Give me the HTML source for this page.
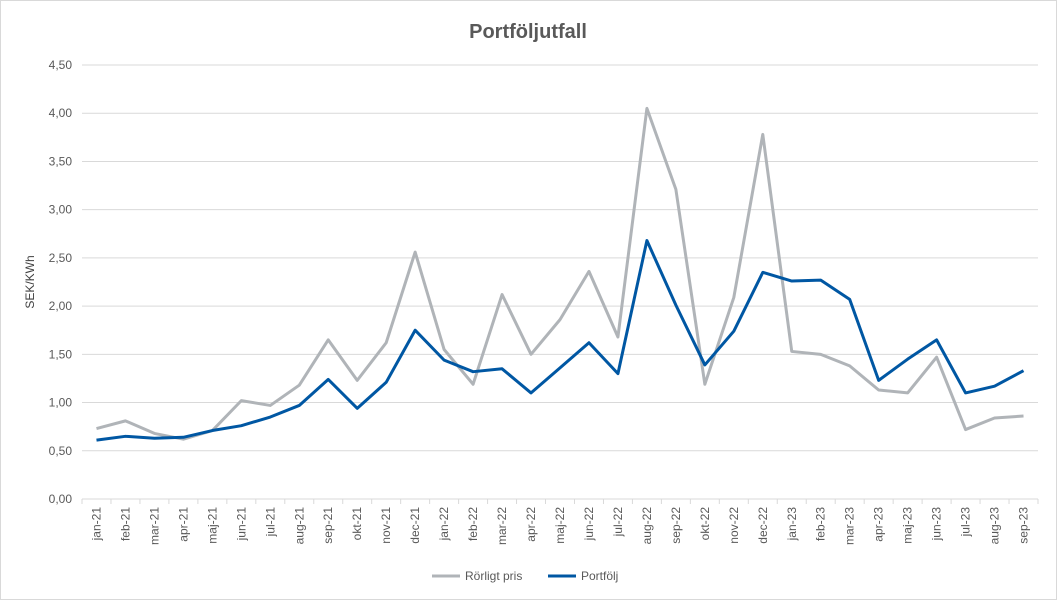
<!DOCTYPE html>
<html><head><meta charset="utf-8"><style>
body{margin:0;background:#fff}
svg{display:block;font-family:"Liberation Sans",sans-serif}
</style></head><body>
<svg id="chart" width="1057" height="600">
<rect x="0.5" y="0.5" width="1056" height="599" fill="#fff" stroke="#d9d9d9"/>
<text x="528" y="38" text-anchor="middle" font-size="20" font-weight="bold" fill="#595959">Portföljutfall</text>
<text transform="translate(34,282) rotate(-90)" text-anchor="middle" font-size="12" fill="#404040">SEK/KWh</text>
<g id="grid"></g><g id="xaxis"></g><g id="series"></g>
<g>
<line x1="432" y1="576" x2="460" y2="576" stroke="#b0b4b8" stroke-width="3"/>
<text x="465" y="580" font-size="12" fill="#595959">Rörligt pris</text>
<line x1="548" y1="576" x2="576" y2="576" stroke="#0057a3" stroke-width="3"/>
<text x="581" y="580" font-size="12" fill="#595959">Portfölj</text>
</g>
</svg>
<script>
const categories=["jan-21","feb-21","mar-21","apr-21","maj-21","jun-21","jul-21","aug-21","sep-21","okt-21","nov-21","dec-21","jan-22","feb-22","mar-22","apr-22","maj-22","jun-22","jul-22","aug-22","sep-22","okt-22","nov-22","dec-22","jan-23","feb-23","mar-23","apr-23","maj-23","jun-23","jul-23","aug-23","sep-23"];
const rorligt=[0.73,0.81,0.68,0.62,0.71,1.02,0.97,1.18,1.65,1.23,1.62,2.56,1.55,1.19,2.12,1.50,1.86,2.36,1.68,4.05,3.21,1.19,2.09,3.78,1.53,1.50,1.38,1.13,1.10,1.47,0.72,0.84,0.86];
const portfolj=[0.61,0.65,0.63,0.64,0.71,0.76,0.85,0.97,1.24,0.94,1.21,1.75,1.44,1.32,1.35,1.10,1.36,1.62,1.30,2.68,2.01,1.39,1.74,2.35,2.26,2.27,2.07,1.23,1.45,1.65,1.10,1.17,1.33];
const yTicks=[0,0.5,1,1.5,2,2.5,3,3.5,4,4.5];
const NS="http://www.w3.org/2000/svg";
const X0=82,X1=1038,Y0=499,Y1=65;
const step=(X1-X0)/categories.length;
const x=i=>X0+step*(i+0.5);
const y=v=>Y0-(v/4.5)*(Y0-Y1);
function mk(t,a,p){const e=document.createElementNS(NS,t);for(const k in a)e.setAttribute(k,a[k]);p.appendChild(e);return e;}
const grid=document.getElementById('grid');
yTicks.forEach(v=>{
 const l=mk('line',{x1:X0,x2:X1,y1:y(v),y2:y(v),stroke:'#d9d9d9'},grid);
 
 
 const t=mk('text',{x:72,y:y(v)+4,'text-anchor':'end','font-size':12,fill:'#595959'},grid);
 t.textContent=v.toFixed(2).replace('.',',');
 
 
});
const xa=document.getElementById('xaxis');
for(let i=0;i<=categories.length;i++){
 const tk=mk('line',{x1:X0+step*i,x2:X0+step*i,y1:Y0,y2:Y0+5,stroke:'#d9d9d9'},xa);
 
 
}
categories.forEach((c,i)=>{
 const t=mk('text',{transform:`translate(${x(i)+4},507) rotate(-90)`,'text-anchor':'end','font-size':12,fill:'#595959'},xa);
 t.textContent=c;
 
 
});
const s=document.getElementById('series');
[[rorligt,'#b0b4b8','rorligt-pris-line'],[portfolj,'#0057a3','portfolj-line']].forEach(([d,c,n])=>{
 const p=mk('polyline',{points:d.map((v,i)=>x(i)+','+y(v)).join(' '),fill:'none',stroke:c,'stroke-width':3,'stroke-linejoin':'round'},s);
 
 
});
</script>
</body></html>
